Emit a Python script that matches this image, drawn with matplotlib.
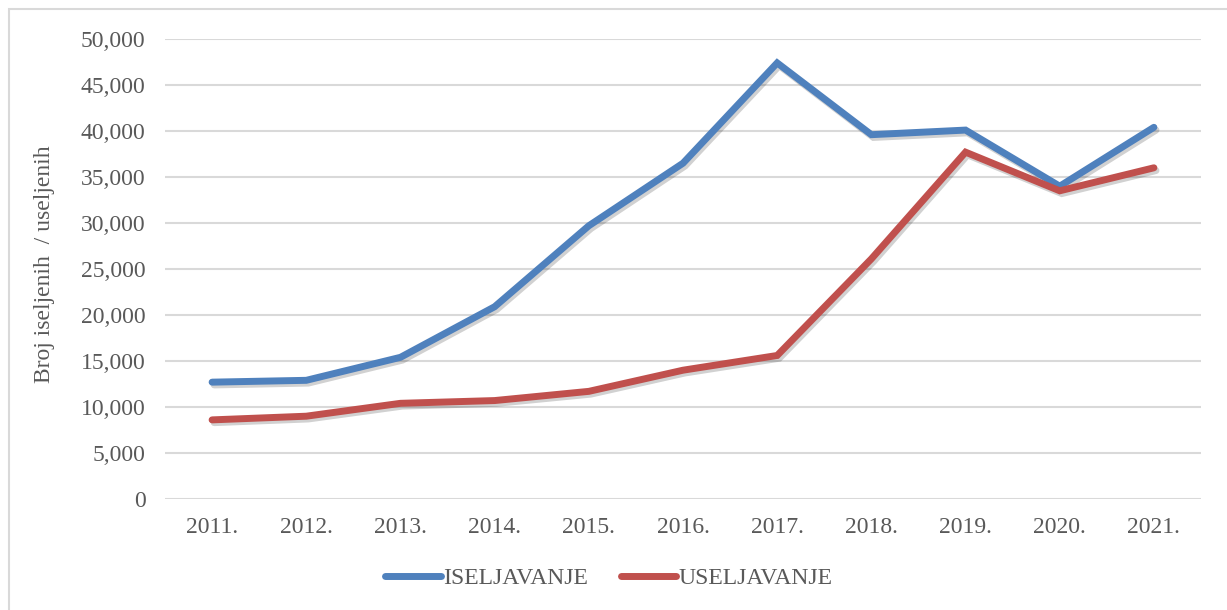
import numpy as np
import matplotlib.pyplot as plt
import matplotlib.patheffects as pe
from matplotlib.patches import Rectangle
from matplotlib.ticker import FuncFormatter

years = ['2011.', '2012.', '2013.', '2014.', '2015.', '2016.', '2017.', '2018.', '2019.', '2020.', '2021.']
iseljavanje = [12700, 12900, 15400, 20900, 29700, 36500, 47400, 39600, 40100, 34000, 40400]
useljavanje = [8600, 9000, 10400, 10700, 11700, 14000, 15600, 26100, 37700, 33500, 36000]

plt.rcParams['font.family'] = ['Liberation Serif', 'DejaVu Serif']
text_col = '#595959'

fig = plt.figure(figsize=(12.27, 6.10), dpi=100)
ax = fig.add_axes([165 / 1227, 111 / 610, 1036 / 1227, 460 / 610])

# outer chart border
fig.patches.append(Rectangle((9 / 1227, -0.01), 1.02, (610 - 9) / 610 + 0.01,
                             transform=fig.transFigure, fill=False,
                             edgecolor='#d9d9d9', linewidth=1.5))

x = np.arange(len(years))
shadow = [pe.SimpleLineShadow(offset=(1.5, -2), alpha=0.18, shadow_color='black'), pe.Normal()]
ax.plot(x, iseljavanje, color='#4f81bd', lw=5, solid_capstyle='round',
        solid_joinstyle='miter', label='ISELJAVANJE', path_effects=shadow, zorder=3)
ax.plot(x, useljavanje, color='#c0504d', lw=5, solid_capstyle='round',
        solid_joinstyle='miter', label='USELJAVANJE', path_effects=shadow, zorder=3)

ax.set_xlim(-0.5, len(years) - 0.5)
ax.set_ylim(0, 50000)
ax.set_yticks(np.arange(0, 50001, 5000))
ax.yaxis.set_major_formatter(FuncFormatter(lambda v, p: f'{int(v):,}'))
ax.set_xticks(x)
ax.set_xticklabels(years)
ax.grid(axis='y', color='#d9d9d9', lw=1.5)
ax.set_axisbelow(True)
for s in ax.spines.values():
    s.set_visible(False)
ax.tick_params(axis='both', length=0, labelsize=17, colors=text_col)
ax.tick_params(axis='y', pad=14)
ax.tick_params(axis='x', pad=13)

fig.text(45 / 1227, 1 - 264 / 610, 'Broj iseljenih  / useljenih', rotation=90,
         ha='center', va='center', fontsize=17, color=text_col)

leg = ax.legend(loc='center', bbox_to_anchor=(609 / 1227, 1 - 578 / 610),
                bbox_transform=fig.transFigure, ncol=2, frameon=False,
                fontsize=17, handlelength=2.35, handletextpad=0.1, columnspacing=1.4)
for t in leg.get_texts():
    t.set_color(text_col)
for h in leg.get_lines():
    h.set_path_effects([])

fig.savefig('out.png', dpi=100)
